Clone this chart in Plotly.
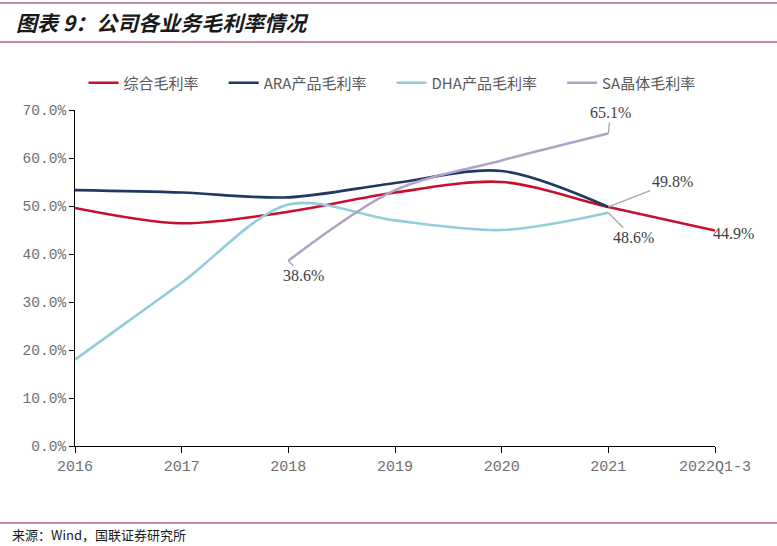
import plotly.graph_objects as go

categories = ["2016", "2017", "2018", "2019", "2020", "2021", "2022Q1-3"]
overall = [49.6, 46.4, 48.8, 52.8, 55.0, 49.8, 44.9]
ara = [53.3, 52.8, 51.8, 54.8, 57.3, 49.8, None]
dha = [18.0, 34.0, 50.3, 47.0, 45.0, 48.6, None]
sa = [None, None, 38.6, 53.3, 59.5, 65.1, None]
y_ticks = [0, 10, 20, 30, 40, 50, 60, 70]

names = ["综合毛利率", "ARA产品毛利率", "DHA产品毛利率", "SA晶体毛利率"]
colors = ["#C8102E", "#1F3864", "#92CDDC", "#B3A2C7"]
series = [overall, ara, dha, sa]

W, H = 777, 546
L, R, T, B = 75, 62, 110, 100
pw, ph = W - L - R, H - T - B
def px(x): return (x - L) / pw
def py(y): return (H - B - y) / ph

pad = "\u00a0" * 6
xs = list(range(len(categories)))
fig = go.Figure()
for i, (name, col, vals) in enumerate(zip(names, colors, series)):
    fig.add_trace(go.Scatter(
        x=xs, y=vals, name=name + (pad if i < len(names) - 1 else ""), mode="lines",
        line=dict(color=col, width=2.6, shape="spline", smoothing=0.9),
        connectgaps=False,
    ))

label_font = dict(family="Liberation Serif, serif", size=16, color="#404040")
ann = []
def lab(xi, yv, ax, ay):
    ann.append(dict(x=xi, y=yv, xref="x", yref="y", text=f"{yv:.1f}%",
                    showarrow=True, arrowhead=0, arrowwidth=1.3,
                    arrowcolor="#A6A6A6", ax=ax, ay=ay, font=label_font))
lab(5, sa[5], 2, -21)
lab(5, overall[5], 64, -25)
lab(5, dha[5], 25, 25)
lab(2, sa[2], 15, 15)
ann.append(dict(x=6, y=overall[6], xref="x", yref="y", text=f"{overall[6]:.1f}%",
                showarrow=False, xanchor="left", xshift=-4, yshift=-3, font=label_font))

ann.append(dict(x=px(14), y=py(22), xref="paper", yref="paper",
                text="<b><i>图表 9：公司各业务毛利率情况</i></b>",
                showarrow=False, xanchor="left", yanchor="middle",
                font=dict(family="Noto Sans CJK SC", size=21, color="#1a1a1a")))
ann.append(dict(x=px(10), y=py(534), xref="paper", yref="paper",
                text="来源：Wind，国联证券研究所", showarrow=False, xanchor="left", yanchor="middle",
                font=dict(family="Noto Sans CJK SC", size=13, color="#1a1a1a")))

line_col = "#8B1A3A"
shapes = []
for yy in [3, 42, 523]:
    shapes.append(dict(type="line", xref="paper", yref="paper", x0=px(0), x1=px(W),
                       y0=py(yy), y1=py(yy), line=dict(color=line_col, width=1.2)))

fig.update_layout(
    width=W, height=H,
    margin=dict(l=L, r=R, t=T, b=B),
    paper_bgcolor="white", plot_bgcolor="white",
    annotations=ann, shapes=shapes,
    showlegend=True,
    legend=dict(orientation="h", x=px(392), xanchor="center", y=py(83), yanchor="middle",
                font=dict(family="Noto Sans CJK SC", size=15, color="#595959"),
                itemwidth=30, tracegroupgap=0),
    xaxis=dict(range=[0, 6], tickmode="array", tickvals=xs, ticktext=categories,
               showgrid=False, zeroline=False, showline=True, linecolor="#000", linewidth=1,
               ticks="outside", ticklen=6, tickcolor="#000",
               tickfont=dict(family="Liberation Mono, DejaVu Sans Mono, monospace", size=15, color="#6f6f6f")),
    yaxis=dict(range=[0, 70], tickmode="array", tickvals=y_ticks,
               ticktext=[f"{v:.1f}%" for v in y_ticks],
               showgrid=False, zeroline=False, showline=True, linecolor="#000", linewidth=1,
               ticks="outside", ticklen=5, tickcolor="#000",
               tickfont=dict(family="Liberation Mono, DejaVu Sans Mono, monospace", size=14.5, color="#6f6f6f")),
)

fig.write_html("out.html", config={"displayModeBar": False},
               post_script="document.body.style.margin='0';document.body.style.padding='0';")
